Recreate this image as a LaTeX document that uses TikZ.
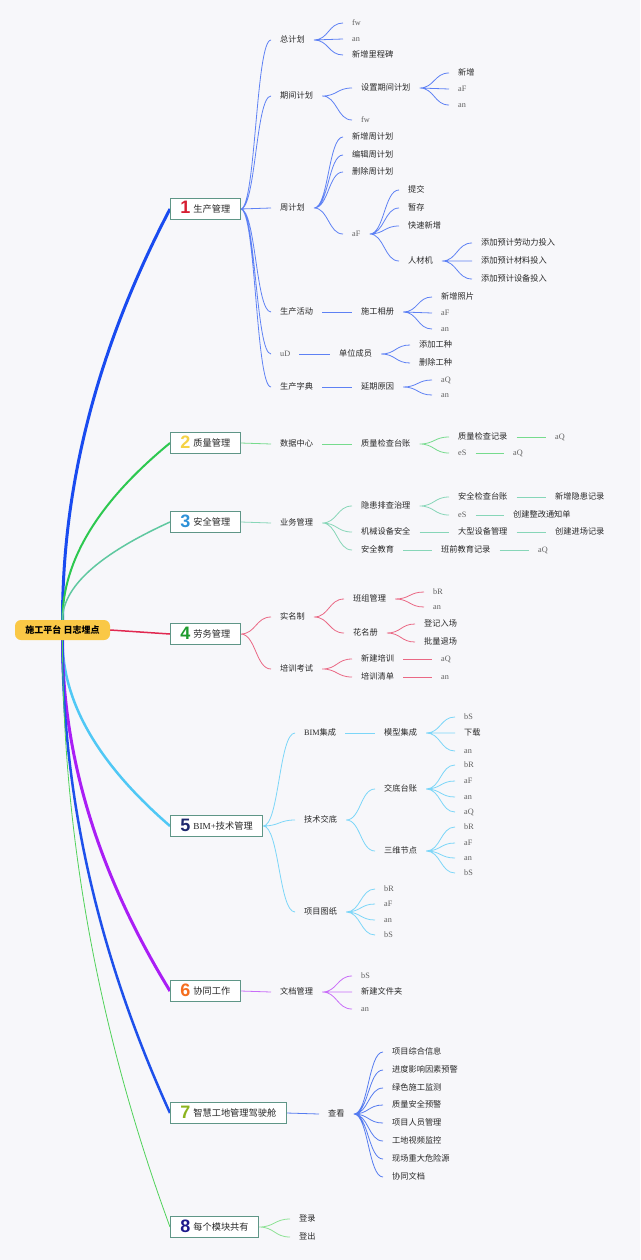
\documentclass[tikz,border=0pt]{standalone}
\usepackage{fontspec}
\setmainfont{Liberation Serif}
\newfontfamily\cjk{Noto Sans CJK SC}
\newfontfamily\numfont{Liberation Sans}
\usetikzlibrary{calc,backgrounds}

\definecolor{bg}{RGB}{247,247,250}
\definecolor{txt}{RGB}{40,40,40}
\definecolor{boxline}{RGB}{95,150,135}
\definecolor{rootc}{RGB}{250,200,70}
% main branches
\definecolor{c1}{RGB}{25,75,240}
\definecolor{c2}{RGB}{45,200,80}
\definecolor{c3}{RGB}{95,200,160}
\definecolor{c4}{RGB}{225,40,80}
\definecolor{c5}{RGB}{80,200,245}
\definecolor{c6}{RGB}{170,30,245}
\definecolor{c7}{RGB}{30,80,235}
\definecolor{c8}{RGB}{80,210,90}
% numbers in the boxes
\definecolor{n1}{RGB}{215,30,50}
\definecolor{n2}{RGB}{245,210,70}
\definecolor{n3}{RGB}{45,145,215}
\definecolor{n4}{RGB}{30,155,45}
\definecolor{n5}{RGB}{30,40,110}
\definecolor{n6}{RGB}{245,110,30}
\definecolor{n7}{RGB}{140,180,30}
\definecolor{n8}{RGB}{30,25,140}

\newcommand{\boxnum}[2]{\raisebox{-1.5pt}{\numfont\bfseries\fontsize{18}{18}\selectfont\color{#1}#2}\hspace{3pt}}

\begin{document}
\begin{tikzpicture}[x=1pt,y=-1pt,line cap=round,
  lbl/.style={anchor=west,xshift=-9pt,inner xsep=9pt,inner ysep=1pt,
    text height=6.5pt,text depth=1.5pt,text=txt,font=\cjk\fontsize{8.2}{10}\selectfont},
  lat/.style={lbl,text=txt!75,font=\rmfamily\fontsize{8.2}{10}\selectfont},
  box/.style={draw=boxline,line width=0.8pt,fill=white,anchor=west,inner xsep=10pt,
    minimum height=21pt,text height=9pt,text depth=2pt,text=txt,font=\cjk\fontsize{9.2}{11}\selectfont},
  rootnode/.style={fill=rootc,rounded corners=6pt,minimum width=95pt,minimum height=20pt,
    text=black,font=\cjk\bfseries\fontsize{9}{11}\selectfont},
  sub/.style={to path={let \p1=(\tikztostart),\p2=(\tikztotarget) in
    .. controls ({(\x1+\x2)/2},\y1) and ({(\x1+\x2)/2},\y2) .. (\tikztotarget)}},
  rootbr/.style={to path={let \p1=(\tikztostart),\p2=(\tikztotarget) in
    .. controls (\x1,{\y1+(\y2-\y1)/3}) and ({\x2+2*(\x1-\x2)/3},{\y2+(\y1-\y2)/3}) .. (\tikztotarget)}},
  r1/.style={draw=c1,line width=3pt},
  r2/.style={draw=c2,line width=2pt},
  r3/.style={draw=c3,line width=1.5pt},
  r4/.style={draw=c4,line width=1.5pt},
  r5/.style={draw=c5,line width=2.5pt},
  r6/.style={draw=c6,line width=3pt},
  r7/.style={draw=c7,line width=2.5pt},
  r8/.style={draw=c8,line width=0.8pt},
  s1/.style={draw=c1!70!white,line width=0.8pt},
  s2/.style={draw=c2!65!white,line width=0.8pt},
  s3/.style={draw=c3!75!white,line width=0.8pt},
  s4/.style={draw=c4!70!white,line width=0.8pt},
  s5/.style={draw=c5!75!white,line width=0.8pt},
  s6/.style={draw=c6!65!white,line width=0.8pt},
  s7/.style={draw=c7!75!white,line width=0.8pt},
  s8/.style={draw=c8!65!white,line width=0.8pt}]
\useasboundingbox (0,0) rectangle (640,1260);

\node[rootnode] (root) at (62.5,630) {施工平台 日志埋点};

% 1 生产管理
\node[box] (b1) at (170,209) {\boxnum{n1}{1}生产管理};
\node[lbl] (zjh) at (280,40) {总计划};
\node[lat] (zjh-fw) at (352,23) {fw};
\node[lat] (zjh-an) at (352,39) {an};
\node[lbl] (zjh-lcb) at (352,55) {新增里程碑};
\node[lbl] (qjjh) at (280,96) {期间计划};
\node[lbl] (szqj) at (361,88) {设置期间计划};
\node[lbl] (szqj-xz) at (458,73) {新增};
\node[lat] (szqj-af) at (458,89) {aF};
\node[lat] (szqj-an) at (458,105) {an};
\node[lat] (qjjh-fw) at (361,120) {fw};
\node[lbl] (zhjh) at (280,208) {周计划};
\node[lbl] (xzzjh) at (352,137) {新增周计划};
\node[lbl] (bjzjh) at (352,155) {编辑周计划};
\node[lbl] (sczjh) at (352,172) {删除周计划};
\node[lat] (zhjh-af) at (352,234) {aF};
\node[lbl] (tj) at (408,190) {提交};
\node[lbl] (zc) at (408,208) {暂存};
\node[lbl] (ksxz) at (408,226) {快速新增};
\node[lbl] (rcj) at (408,261) {人材机};
\node[lbl] (ldl) at (481,243) {添加预计劳动力投入};
\node[lbl] (cl) at (481,261) {添加预计材料投入};
\node[lbl] (sb) at (481,279) {添加预计设备投入};
\node[lbl] (schd) at (280,312) {生产活动};
\node[lbl] (sgxc) at (361,312) {施工相册};
\node[lbl] (xzzp) at (441,297) {新增照片};
\node[lat] (sgxc-af) at (441,313) {aF};
\node[lat] (sgxc-an) at (441,329) {an};
\node[lat] (ud) at (280,354) {uD};
\node[lbl] (dwcy) at (339,354) {单位成员};
\node[lbl] (tjgz) at (419,345) {添加工种};
\node[lbl] (scgz) at (419,363) {删除工种};
\node[lbl] (sczd) at (280,387) {生产字典};
\node[lbl] (yqyy) at (361,387) {延期原因};
\node[lat] (yqyy-aq) at (441,380) {aQ};
\node[lat] (yqyy-an) at (441,395) {an};

% 2 质量管理
\node[box] (b2) at (170,443) {\boxnum{n2}{2}质量管理};
\node[lbl] (sjzx) at (280,444) {数据中心};
\node[lbl] (zljctz) at (361,444) {质量检查台账};
\node[lbl] (zljcjl) at (458,437) {质量检查记录};
\node[lat] (zljcjl-aq) at (555,437) {aQ};
\node[lat] (zl-es) at (458,453) {eS};
\node[lat] (zl-es-aq) at (513,453) {aQ};

% 3 安全管理
\node[box] (b3) at (170,522) {\boxnum{n3}{3}安全管理};
\node[lbl] (ywgl) at (280,523) {业务管理};
\node[lbl] (yhpc) at (361,506) {隐患排查治理};
\node[lbl] (aqjctz) at (458,497) {安全检查台账};
\node[lbl] (xzyh) at (555,497) {新增隐患记录};
\node[lat] (aq-es) at (458,515) {eS};
\node[lbl] (cjzg) at (513,515) {创建整改通知单};
\node[lbl] (jxsb) at (361,532) {机械设备安全};
\node[lbl] (dxsb) at (458,532) {大型设备管理};
\node[lbl] (cjjc) at (555,532) {创建进场记录};
\node[lbl] (aqjy) at (361,550) {安全教育};
\node[lbl] (bqjy) at (441,550) {班前教育记录};
\node[lat] (bqjy-aq) at (538,550) {aQ};

% 4 劳务管理
\node[box] (b4) at (170,634) {\boxnum{n4}{4}劳务管理};
\node[lbl] (smz) at (280,617) {实名制};
\node[lbl] (bzgl) at (353,599) {班组管理};
\node[lat] (bzgl-br) at (433,592) {bR};
\node[lat] (bzgl-an) at (433,607) {an};
\node[lbl] (hmc) at (353,633) {花名册};
\node[lbl] (djrc) at (424,624) {登记入场};
\node[lbl] (pltc) at (424,642) {批量退场};
\node[lbl] (pxks) at (280,669) {培训考试};
\node[lbl] (xjpx) at (361,659) {新建培训};
\node[lat] (xjpx-aq) at (441,659) {aQ};
\node[lbl] (pxqd) at (361,677) {培训清单};
\node[lat] (pxqd-an) at (441,677) {an};

% 5 BIM+技术管理
\node[box] (b5) at (170,826) {\boxnum{n5}{5}{\rmfamily BIM+}技术管理};
\node[lbl] (bimjc) at (304,733) {{\rmfamily BIM}集成};
\node[lbl] (mxjc) at (384,733) {模型集成};
\node[lat] (mxjc-bs) at (464,717) {bS};
\node[lbl] (mxjc-xz) at (464,733) {下载};
\node[lat] (mxjc-an) at (464,751) {an};
\node[lbl] (jsjd) at (304,820) {技术交底};
\node[lbl] (jdtz) at (384,789) {交底台账};
\node[lat] (jdtz-br) at (464,765) {bR};
\node[lat] (jdtz-af) at (464,781) {aF};
\node[lat] (jdtz-an) at (464,797) {an};
\node[lat] (jdtz-aq) at (464,812) {aQ};
\node[lbl] (swjd) at (384,851) {三维节点};
\node[lat] (swjd-br) at (464,827) {bR};
\node[lat] (swjd-af) at (464,843) {aF};
\node[lat] (swjd-an) at (464,858) {an};
\node[lat] (swjd-bs) at (464,873) {bS};
\node[lbl] (xmtz) at (304,912) {项目图纸};
\node[lat] (xmtz-br) at (384,889) {bR};
\node[lat] (xmtz-af) at (384,904) {aF};
\node[lat] (xmtz-an) at (384,920) {an};
\node[lat] (xmtz-bs) at (384,935) {bS};

% 6 协同工作
\node[box] (b6) at (170,991) {\boxnum{n6}{6}协同工作};
\node[lbl] (wdgl) at (280,992) {文档管理};
\node[lat] (wdgl-bs) at (361,976) {bS};
\node[lbl] (wdgl-wjj) at (361,992) {新建文件夹};
\node[lat] (wdgl-an) at (361,1009) {an};

% 7 智慧工地管理驾驶舱
\node[box] (b7) at (170,1113) {\boxnum{n7}{7}智慧工地管理驾驶舱};
\node[lbl] (ck) at (328,1114) {查看};
\node[lbl] (xmzh) at (392,1052) {项目综合信息};
\node[lbl] (jdyx) at (392,1070) {进度影响因素预警};
\node[lbl] (lssg) at (392,1088) {绿色施工监测};
\node[lbl] (zlaq) at (392,1105) {质量安全预警};
\node[lbl] (xmry) at (392,1123) {项目人员管理};
\node[lbl] (gdsp) at (392,1141) {工地视频监控};
\node[lbl] (xczd) at (392,1159) {现场重大危险源};
\node[lbl] (xtwd) at (392,1177) {协同文档};

% 8 每个模块共有
\node[box] (b8) at (170,1227) {\boxnum{n8}{8}每个模块共有};
\node[lbl] (dl) at (299,1219) {登录};
\node[lbl] (dc) at (299,1237) {登出};

\begin{scope}[on background layer]
\fill[bg] (0,0) rectangle (640,1260);
% root to modules
\draw[r1] (root.north) to[rootbr] (b1.west);
\draw[r2] (root.north) to[rootbr] (b2.west);
\draw[r3] (root.north) to[rootbr] (b3.west);
\draw[r4] (root.east) -- (b4.west);
\draw[r5] (root.south) to[rootbr] (b5.west);
\draw[r6] (root.south) to[rootbr] (b6.west);
\draw[r7] (root.south) to[rootbr] (b7.west);
\draw[r8] (root.south) to[rootbr] (b8.west);
% 1
\draw[s1] (b1.east) to[sub] (zjh.west) (b1.east) to[sub] (qjjh.west) (b1.east) to[sub] (zhjh.west)
  (b1.east) to[sub] (schd.west) (b1.east) to[sub] (ud.west) (b1.east) to[sub] (sczd.west);
\draw[s1] (zjh.east) to[sub] (zjh-fw.west) (zjh.east) to[sub] (zjh-an.west) (zjh.east) to[sub] (zjh-lcb.west);
\draw[s1] (qjjh.east) to[sub] (szqj.west) (qjjh.east) to[sub] (qjjh-fw.west);
\draw[s1] (szqj.east) to[sub] (szqj-xz.west) (szqj.east) to[sub] (szqj-af.west) (szqj.east) to[sub] (szqj-an.west);
\draw[s1] (zhjh.east) to[sub] (xzzjh.west) (zhjh.east) to[sub] (bjzjh.west) (zhjh.east) to[sub] (sczjh.west)
  (zhjh.east) to[sub] (zhjh-af.west);
\draw[s1] (zhjh-af.east) to[sub] (tj.west) (zhjh-af.east) to[sub] (zc.west) (zhjh-af.east) to[sub] (ksxz.west)
  (zhjh-af.east) to[sub] (rcj.west);
\draw[s1] (rcj.east) to[sub] (ldl.west) (rcj.east) to[sub] (cl.west) (rcj.east) to[sub] (sb.west);
\draw[s1] (schd.east) to[sub] (sgxc.west);
\draw[s1] (sgxc.east) to[sub] (xzzp.west) (sgxc.east) to[sub] (sgxc-af.west) (sgxc.east) to[sub] (sgxc-an.west);
\draw[s1] (ud.east) to[sub] (dwcy.west);
\draw[s1] (dwcy.east) to[sub] (tjgz.west) (dwcy.east) to[sub] (scgz.west);
\draw[s1] (sczd.east) to[sub] (yqyy.west);
\draw[s1] (yqyy.east) to[sub] (yqyy-aq.west) (yqyy.east) to[sub] (yqyy-an.west);
% 2
\draw[s2] (b2.east) to[sub] (sjzx.west);
\draw[s2] (sjzx.east) to[sub] (zljctz.west);
\draw[s2] (zljctz.east) to[sub] (zljcjl.west) (zljctz.east) to[sub] (zl-es.west);
\draw[s2] (zljcjl.east) to[sub] (zljcjl-aq.west);
\draw[s2] (zl-es.east) to[sub] (zl-es-aq.west);
% 3
\draw[s3] (b3.east) to[sub] (ywgl.west);
\draw[s3] (ywgl.east) to[sub] (yhpc.west) (ywgl.east) to[sub] (jxsb.west) (ywgl.east) to[sub] (aqjy.west);
\draw[s3] (yhpc.east) to[sub] (aqjctz.west) (yhpc.east) to[sub] (aq-es.west);
\draw[s3] (aqjctz.east) to[sub] (xzyh.west);
\draw[s3] (aq-es.east) to[sub] (cjzg.west);
\draw[s3] (jxsb.east) to[sub] (dxsb.west);
\draw[s3] (dxsb.east) to[sub] (cjjc.west);
\draw[s3] (aqjy.east) to[sub] (bqjy.west);
\draw[s3] (bqjy.east) to[sub] (bqjy-aq.west);
% 4
\draw[s4] (b4.east) to[sub] (smz.west) (b4.east) to[sub] (pxks.west);
\draw[s4] (smz.east) to[sub] (bzgl.west) (smz.east) to[sub] (hmc.west);
\draw[s4] (bzgl.east) to[sub] (bzgl-br.west) (bzgl.east) to[sub] (bzgl-an.west);
\draw[s4] (hmc.east) to[sub] (djrc.west) (hmc.east) to[sub] (pltc.west);
\draw[s4] (pxks.east) to[sub] (xjpx.west) (pxks.east) to[sub] (pxqd.west);
\draw[s4] (xjpx.east) to[sub] (xjpx-aq.west);
\draw[s4] (pxqd.east) to[sub] (pxqd-an.west);
% 5
\draw[s5] (b5.east) to[sub] (bimjc.west) (b5.east) to[sub] (jsjd.west) (b5.east) to[sub] (xmtz.west);
\draw[s5] (bimjc.east) to[sub] (mxjc.west);
\draw[s5] (mxjc.east) to[sub] (mxjc-bs.west) (mxjc.east) to[sub] (mxjc-xz.west) (mxjc.east) to[sub] (mxjc-an.west);
\draw[s5] (jsjd.east) to[sub] (jdtz.west) (jsjd.east) to[sub] (swjd.west);
\draw[s5] (jdtz.east) to[sub] (jdtz-br.west) (jdtz.east) to[sub] (jdtz-af.west) (jdtz.east) to[sub] (jdtz-an.west)
  (jdtz.east) to[sub] (jdtz-aq.west);
\draw[s5] (swjd.east) to[sub] (swjd-br.west) (swjd.east) to[sub] (swjd-af.west) (swjd.east) to[sub] (swjd-an.west)
  (swjd.east) to[sub] (swjd-bs.west);
\draw[s5] (xmtz.east) to[sub] (xmtz-br.west) (xmtz.east) to[sub] (xmtz-af.west) (xmtz.east) to[sub] (xmtz-an.west)
  (xmtz.east) to[sub] (xmtz-bs.west);
% 6
\draw[s6] (b6.east) to[sub] (wdgl.west);
\draw[s6] (wdgl.east) to[sub] (wdgl-bs.west) (wdgl.east) to[sub] (wdgl-wjj.west) (wdgl.east) to[sub] (wdgl-an.west);
% 7
\draw[s7] (b7.east) to[sub] (ck.west);
\draw[s7] (ck.east) to[sub] (xmzh.west) (ck.east) to[sub] (jdyx.west) (ck.east) to[sub] (lssg.west)
  (ck.east) to[sub] (zlaq.west) (ck.east) to[sub] (xmry.west) (ck.east) to[sub] (gdsp.west)
  (ck.east) to[sub] (xczd.west) (ck.east) to[sub] (xtwd.west);
% 8
\draw[s8] (b8.east) to[sub] (dl.west) (b8.east) to[sub] (dc.west);
\end{scope}
\end{tikzpicture}
\end{document}
